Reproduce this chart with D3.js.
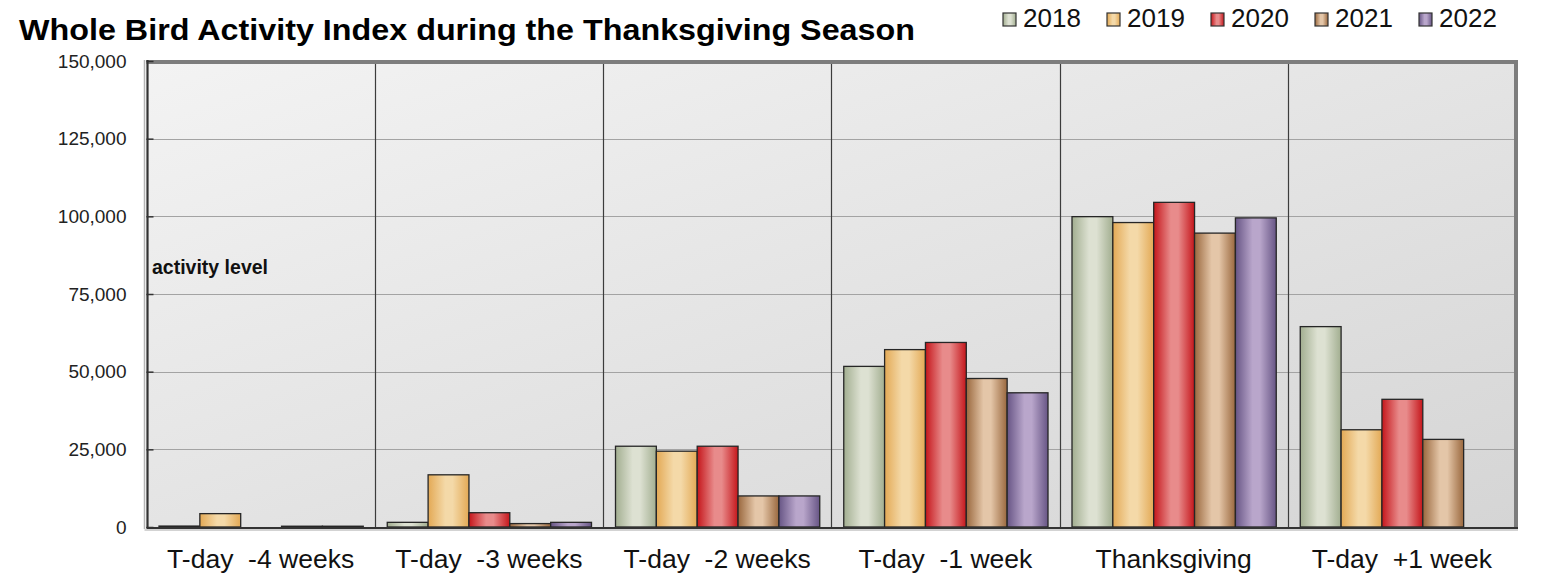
<!DOCTYPE html>
<html>
<head>
<meta charset="utf-8">
<script src="https://cdn.jsdelivr.net/npm/d3@7"></script>
<style>
  body { margin: 0; background: #fff; }
  text { font-family: "Liberation Sans", Arial, sans-serif; }
</style>
</head>
<body>
<svg id="chart" width="1544" height="586"></svg>
<script>
const categories = ["T-day  -4 weeks", "T-day  -3 weeks", "T-day  -2 weeks", "T-day  -1 week", "Thanksgiving", "T-day  +1 week"];
const years = ["2018", "2019", "2020", "2021", "2022"];
const v2018 = [300, 1500, 26000, 51700, 99900, 64500];
const v2019 = [4300, 16800, 24400, 57100, 98000, 31300];
const v2020 = [null, 4600, 26000, 59400, 104500, 41100];
const v2021 = [250, 1100, 10000, 47800, 94600, 28200];
const v2022 = [250, 1500, 10000, 43200, 99500, null];
const yTicks = [0, 25000, 50000, 75000, 100000, 125000, 150000];
const darkColors = ["#a2ae90", "#e3a955", "#c5161b", "#9a683e", "#675585"];
const lightColors = ["#dde1d2", "#f4d9a8", "#e88b8b", "#e4c6a8", "#b9a6cb"];

const series = [v2018, v2019, v2020, v2021, v2022];

const width = 1544, height = 586;
const margin = { top: 61, right: 28, bottom: 59, left: 146.5 };
const plotRight = width - margin.right;
const plotBottom = height - margin.bottom;

const svg = d3.select("#chart");
const defs = svg.append("defs");

// backdrop gradient
const bg = defs.append("linearGradient")
    .attr("id", "bg-grad")
    .attr("x1", "0%").attr("y1", "0%")
    .attr("x2", "100%").attr("y2", "100%");
bg.append("stop").attr("offset", "0%").attr("stop-color", "#f3f3f3");
bg.append("stop").attr("offset", "100%").attr("stop-color", "#d5d5d5");

// bar gradients
years.forEach((yr, i) => {
    const g = defs.append("linearGradient")
        .attr("id", "bar-" + yr)
        .attr("x1", "0%").attr("y1", "0%")
        .attr("x2", "100%").attr("y2", "0%");
    g.append("stop").attr("offset", "0%").attr("stop-color", darkColors[i]);
    g.append("stop").attr("offset", "42%").attr("stop-color", lightColors[i]);
    g.append("stop").attr("offset", "60%").attr("stop-color", lightColors[i]);
    g.append("stop").attr("offset", "100%").attr("stop-color", darkColors[i]);
});

const x0 = d3.scaleBand()
    .domain(categories)
    .range([margin.left, plotRight])
    .padding(0);

const x1 = d3.scaleBand()
    .domain(years)
    .range([12.5, x0.bandwidth() - 11.5])
    .padding(0);

const y = d3.scaleLinear()
    .domain([0, 150000])
    .range([plotBottom, margin.top]);

svg.append("rect")
    .attr("x", margin.left)
    .attr("y", margin.top)
    .attr("width", plotRight - margin.left)
    .attr("height", plotBottom - margin.top)
    .attr("fill", "url(#bg-grad)");

// gridlines
svg.append("g")
    .selectAll("line")
    .data(yTicks.filter(d => d > 0 && d < 150000))
    .enter()
    .append("line")
    .attr("x1", margin.left)
    .attr("x2", plotRight)
    .attr("y1", d => Math.round(y(d)) + 0.5)
    .attr("y2", d => Math.round(y(d)) + 0.5)
    .attr("stroke", "#a3a3a3")
    .attr("stroke-width", 1.2);

// group dividers
svg.append("g")
    .selectAll("line")
    .data(categories.slice(1))
    .enter()
    .append("line")
    .attr("x1", d => Math.round(x0(d)) + 0.5)
    .attr("x2", d => Math.round(x0(d)) + 0.5)
    .attr("y1", margin.top)
    .attr("y2", plotBottom)
    .attr("stroke", "#3c3c3c")
    .attr("stroke-width", 1.2);

// bars
const barData = [];
categories.forEach((c, ci) => {
    years.forEach((yr, yi) => {
        const v = series[yi][ci];
        if (v !== null) barData.push({ cat: c, year: yr, value: v });
    });
});

svg.append("g")
    .selectAll("rect")
    .data(barData)
    .enter()
    .append("rect")
    .attr("x", d => x0(d.cat) + x1(d.year))
    .attr("y", d => y(d.value))
    .attr("width", x1.bandwidth())
    .attr("height", d => plotBottom - y(d.value))
    .attr("fill", d => `url(#bar-${d.year})`)
    .attr("stroke", "#262626")
    .attr("stroke-width", 1.3);

// frame
svg.append("path")
    .attr("d", `M${margin.left},${margin.top + 1}H${plotRight}V${plotBottom}`)
    .attr("fill", "none")
    .attr("stroke", "#7d7d7d")
    .attr("stroke-width", 4);
svg.append("line")
    .attr("x1", margin.left - 2).attr("x2", margin.left - 2)
    .attr("y1", margin.top - 1).attr("y2", plotBottom + 2)
    .attr("stroke", "#b5b5b5").attr("stroke-width", 1.5);
svg.append("line")
    .attr("x1", margin.left + 1).attr("x2", margin.left + 1)
    .attr("y1", margin.top - 1).attr("y2", plotBottom + 1)
    .attr("stroke", "#333").attr("stroke-width", 2.2);
svg.append("line")
    .attr("x1", margin.left).attr("x2", plotRight + 2)
    .attr("y1", plotBottom + 1).attr("y2", plotBottom + 1)
    .attr("stroke", "#333").attr("stroke-width", 2.2);
svg.append("line")
    .attr("x1", margin.left - 2).attr("x2", plotRight + 2)
    .attr("y1", plotBottom + 3).attr("y2", plotBottom + 3)
    .attr("stroke", "#c4c4c4").attr("stroke-width", 1.5);

// y axis
const yAxis = d3.axisLeft(y)
    .tickValues(yTicks)
    .tickFormat(d3.format(","))
    .tickSizeInner(-7)
    .tickSizeOuter(0)
    .tickPadding(20);

const yG = svg.append("g")
    .attr("transform", `translate(${margin.left},0)`)
    .call(yAxis);
yG.select(".domain").remove();
yG.selectAll(".tick line").attr("stroke", "#333").attr("stroke-width", 1.5);
yG.selectAll("text")
    .attr("fill", "#222")
    .style("font-family", "'Liberation Sans', Arial, sans-serif")
    .style("font-size", "19px");

// x axis
const xAxis = d3.axisBottom(x0)
    .tickSize(0)
    .tickPadding(22);

const xG = svg.append("g")
    .attr("transform", `translate(0,${plotBottom})`)
    .call(xAxis);
xG.select(".domain").remove();
xG.selectAll("text")
    .attr("fill", "#111")
    .style("white-space", "pre")
    .style("font-family", "'Liberation Sans', Arial, sans-serif")
    .style("font-size", "26.5px");

// axis caption
svg.append("text")
    .attr("x", 152)
    .attr("y", 274)
    .attr("fill", "#111")
    .style("font-size", "19.5px")
    .style("font-weight", "bold")
    .text("activity level");

// title
svg.append("text")
    .attr("x", 19)
    .attr("y", 40)
    .attr("fill", "#000")
    .attr("textLength", 896)
    .attr("lengthAdjust", "spacingAndGlyphs")
    .style("font-size", "30px")
    .style("font-weight", "bold")
    .text("Whole Bird Activity Index during the Thanksgiving Season");

// legend
const legend = svg.append("g")
    .selectAll("g")
    .data(years)
    .enter()
    .append("g")
    .attr("transform", (d, i) => `translate(${1003 + i * 104},0)`);

legend.append("rect")
    .attr("x", 0)
    .attr("y", 13)
    .attr("width", 13)
    .attr("height", 13)
    .attr("fill", d => `url(#bar-${d})`)
    .attr("stroke", "#333")
    .attr("stroke-width", 1.2);

legend.append("text")
    .attr("x", 20)
    .attr("y", 26.5)
    .attr("fill", "#111")
    .style("font-size", "26px")
    .text(d => d);
</script>
</body>
</html>
